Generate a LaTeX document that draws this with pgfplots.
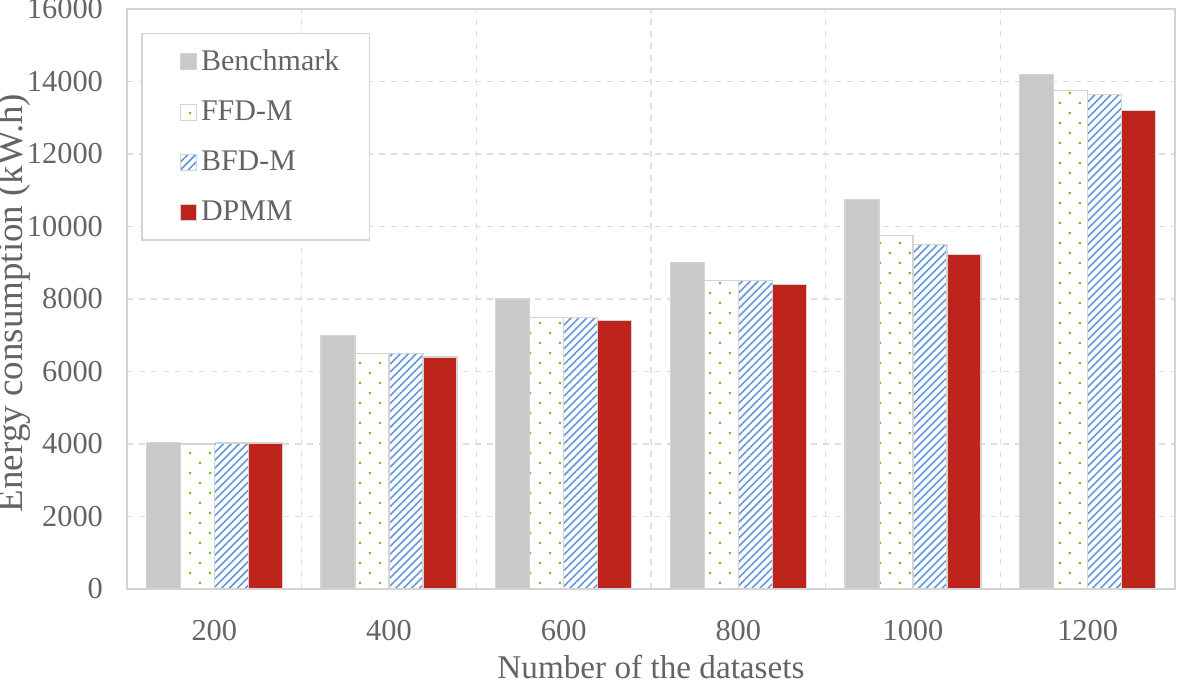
\documentclass[border=0pt]{standalone}
\usepackage{fontspec}
\setmainfont{Liberation Serif}
\usepackage{pgfplots}
\pgfplotsset{compat=1.18}
\usetikzlibrary{patterns.meta}
\definecolor{txt}{RGB}{100,100,100}
\definecolor{bench}{RGB}{201,201,201}
\definecolor{ffd}{RGB}{122,192,50}
\definecolor{bfd}{RGB}{100,152,222}
\definecolor{dpmm}{RGB}{190,36,28}
\definecolor{edge}{RGB}{212,212,212}
\definecolor{gridc}{RGB}{222,222,222}
\begin{document}
\begin{tikzpicture}
\useasboundingbox (-63.5pt,-47pt) rectangle (525pt,294.5pt);
\begin{axis}[
  at={(0,0)}, anchor=south west,
  width=524pt, height=290pt, scale only axis,
  ybar=0pt, bar width=17pt,
  xmin=-0.5, xmax=5.5, ymin=0, ymax=16000,
  xtick={0,...,5}, xticklabels={200,400,600,800,1000,1200},
  ytick={0,2000,...,16000}, scaled y ticks=false,
  minor xtick={0.5,1.5,2.5,3.5,4.5},
  xmajorgrids=false, xminorgrids=true, ymajorgrids=true,
  grid style={dashed, gridc, line width=0.6pt},
  minor grid style={dashed, gridc, line width=0.6pt},
  major tick length=0pt, minor tick length=0pt,
  axis line style={edge, line width=0.8pt},
  tick label style={font=\fontsize{15.2}{18}\selectfont, text=txt},
  xticklabel style={anchor=north, yshift=-12pt},
  yticklabel style={anchor=east, xshift=-8.5pt},
  /pgf/number format/1000 sep={}, /pgf/number format/assume math mode=true,
  xlabel={Number of the datasets}, ylabel={Energy consumption (kW.h)},
  xlabel style={font=\fontsize{16.6}{19}\selectfont, text=txt, at={(axis description cs:0.5,0)}, anchor=base, inner sep=0pt, yshift=-45pt},
  ylabel style={font=\fontsize{18.5}{21}\selectfont, text=txt, at={(axis description cs:-0.108,0.493)}, anchor=center, rotate=0},
  legend style={at={(0.0134,0.959)}, anchor=north west, draw=edge, line width=0.8pt,
    font=\fontsize{15}{17}\selectfont, text=txt, row sep=9.75pt,
    inner xsep=0pt, inner ysep=6pt, legend cell align=left},
  legend image code/.code={\path (0pt,0pt); \draw[#1] (19pt,-4pt) rectangle (27pt,4pt);},
  every axis plot/.append style={draw=edge, line width=0.6pt},
]
\addplot[fill=bench] coordinates {(0,4050) (1,7000) (2,8000) (3,9000) (4,10750) (5,14200)};
\addplot[fill=white, postaction={pattern={Dots[distance=7.07pt, angle=45, radius=0.8pt]}, pattern color=ffd}] coordinates {(0,4000) (1,6500) (2,7500) (3,8500) (4,9750) (5,13750)};
\addplot[fill=white, postaction={pattern={Lines[angle=45, distance=2.8pt, line width=0.8pt]}, pattern color=bfd}] coordinates {(0,4030) (1,6500) (2,7480) (3,8500) (4,9500) (5,13650)};
\addplot[fill=dpmm] coordinates {(0,4030) (1,6400) (2,7400) (3,8400) (4,9220) (5,13200)};
\legend{Benchmark\rule{13pt}{0pt},FFD-M,BFD-M,DPMM}
\end{axis}
\end{tikzpicture}
\end{document}
